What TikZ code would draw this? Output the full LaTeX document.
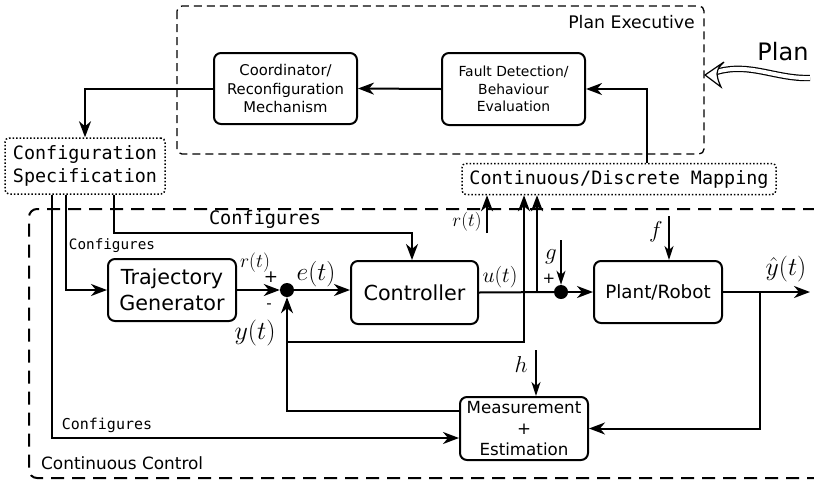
\documentclass[tikz,border=0pt]{standalone}
\usepackage{fix-cm}
\usepackage[no-math]{fontspec}
\setmainfont{DejaVu Sans}
\setmonofont{DejaVu Sans Mono}
\usetikzlibrary{arrows.meta,calc}
\newcommand\fsz[2]{\fontsize{#1}{#2}\selectfont}
\begin{document}
\begin{tikzpicture}[x=1pt,y=-1pt,
  box/.style={draw, line width=2pt, rounded corners=7pt, align=center, inner sep=0pt},
  dotbox/.style={draw, line width=1.5pt, dotted, rounded corners=4pt, align=center, inner sep=0pt},
  wire/.style={line width=2pt},
  arr/.style={wire, -{Stealth[length=16pt,width=12pt,inset=5pt]}},
  thinarr/.style={line width=1.4pt, -{Stealth[length=14pt,width=9pt,inset=4pt]}},
  junc/.style={circle, fill=black, inner sep=0pt, minimum size=14pt},
  lbl/.style={inner sep=0pt}]
\useasboundingbox (0,0) rectangle (814,480);

% group frames
\draw[line width=1.3pt, dash pattern=on 8pt off 5pt, rounded corners=5pt]
  (177,6) rectangle (704,154);
\node[lbl, anchor=east, font=\fsz{17.3}{20}] (pe) at (695,22) {Plan Executive};
\draw[line width=2pt, dash pattern=on 13pt off 8pt, rounded corners=8pt]
  (816,209) -- (29,209) -- (29,478) -- (816,478);
\node[lbl, anchor=west, font=\fsz{16.9}{20}] (cc) at (41,463) {Continuous Control};

% supervisory blocks
\node[box, minimum width=143pt, minimum height=71pt, font=\fsz{14.8}{18.7}] (coord) at (285.5,88.5)
  {Coordinator/\\Reconfiguration\\Mechanism};
\node[box, minimum width=143pt, minimum height=72pt, font=\fsz{13.9}{17.5}] (fd) at (513.5,89)
  {Fault Detection/\\Behaviour\\Evaluation};
\node[dotbox, minimum width=160pt, minimum height=56pt, font=\fsz{18.4}{23.3}\ttfamily] (spec) at (85,166)
  {Configuration\\Specification};
\node[dotbox, minimum width=314pt, minimum height=31pt, font=\fsz{18.4}{22}\ttfamily] (map) at (619,179)
  {Continuous/Discrete Mapping};

% incoming plan
\node[lbl, font=\fsz{24}{28}] (plan) at (783,52) {Plan};
\coordinate (plansrc) at (810,78);
\draw[line width=1.2pt, double=white, double distance=4pt]
  (plansrc) .. controls (775,79) and (750,62) .. (716,72);
\filldraw[line width=1.2pt, fill=white, line join=miter]
  (705,75) -- (724,62) .. controls (718,68) .. (717,74) .. controls (718,80) .. (721,87) -- cycle;

% control loop blocks
\node[box, minimum width=128pt, minimum height=62pt, font=\fsz{20.7}{26}] (tg) at (172,290)
  {Trajectory\\Generator};
\node[box, minimum width=127pt, minimum height=63pt, font=\fsz{20.7}{24}] (ctrl) at (414.5,292.5)
  {Controller};
\node[box, minimum width=128pt, minimum height=62pt, font=\fsz{18.3}{22}] (plant) at (658,292)
  {Plant/Robot};
\node[box, minimum width=128pt, minimum height=63pt, font=\fsz{16.7}{20.8}] (meas) at (524,428.5)
  {Measurement\\+\\Estimation};
\node[junc] (j1) at (287,290) {};
\node[junc] (j2) at (561,292) {};

% supervisory connections
\draw[arr] (fd.west) -- (coord.east);
\draw[arr] ($(map.north)+(28,0)$) |- (fd.east);
\draw[arr] (coord.west) -| (spec.north);

% configuration links
\draw[arr] ($(spec.south)+(29,0)$) |- ($(ctrl.north)+(-2.5,-27)$) -- ($(ctrl.north)+(-2.5,0)$);
\draw[arr] ($(spec.south)+(-19,0)$) |- (tg.west);
\draw[arr] ($(spec.south)+(-33,0)$) |- ($(meas.west)+(0,9.5)$);
\node[lbl, font=\fsz{18.6}{22}\ttfamily] (cfg1) at (265,219) {Configures};
\node[lbl, font=\fsz{14.3}{17}\ttfamily] (cfg2) at (112,246) {Configures};
\node[lbl, font=\fsz{15}{18}\ttfamily] (cfg3) at (107,425) {Configures};

% forward path
\draw[arr] (tg.east) -- (j1);
\draw[arr] (j1) -- (j1 -| ctrl.west);
\draw[wire] (ctrl.east) -- (j2);
\draw[arr] (j2) -- (plant.west);
\coordinate (yout) at (810,292);
\draw[arr] (plant.east) -- (yout);

% feedback path
\coordinate (ytap) at (760,292);
\draw[arr] (ytap) |- (meas.east);
\draw[arr] ($(meas.west)+(0,-17.5)$) -| (j1.south);

% signals to the mapping
\coordinate (yfb) at (287,342);
\draw[arr] (yfb) -| ($(map.south)+(-95,0)$);
\coordinate (utap) at (537,292);
\draw[arr] (utap) -- ($(map.south)+(-82,0)$);
\coordinate (rsrc) at (487,233);
\draw[arr] (rsrc) -- (rsrc |- map.south);

% disturbances
\coordinate (gsrc) at (561,240);
\draw[thinarr] (gsrc) -- (j2);
\coordinate (fsrc) at (669,216);
\draw[thinarr] (fsrc) -- (fsrc |- plant.north);
\coordinate (hsrc) at (536,350);
\draw[thinarr] (hsrc) -- (hsrc |- meas.north);

% signal labels
\node[lbl, font=\fsz{19.5}{22}] (lr1) at (255,263) {$r(t)$};
\node[lbl, font=\fsz{17}{20}] (lp1) at (271,277) {+};
\node[lbl, font=\fsz{15}{18}] (lm1) at (269,306) {-};
\node[lbl, font=\fsz{26}{30}] (ly) at (255,333) {$y(t)$};
\node[lbl, font=\fsz{25.5}{30}] (le) at (316,274) {$e(t)$};
\node[lbl, font=\fsz{21.6}{25}] (lu) at (500,277) {$u(t)$};
\node[lbl, font=\fsz{19}{22}] (lr2) at (467,222) {$r(t)$};
\node[lbl, font=\fsz{23}{26}] (lg) at (551,257) {$g$};
\node[lbl, font=\fsz{15}{18}] (lp2) at (549,279) {+};
\node[lbl, font=\fsz{23}{26}] (lf) at (656,232) {$f$};
\node[lbl, font=\fsz{23}{26}] (lh) at (521,365) {$h$};
\node[lbl, font=\fsz{25.8}{30}] (lyh) at (786,269) {$\hat{y}(t)$};
\end{tikzpicture}
\end{document}
